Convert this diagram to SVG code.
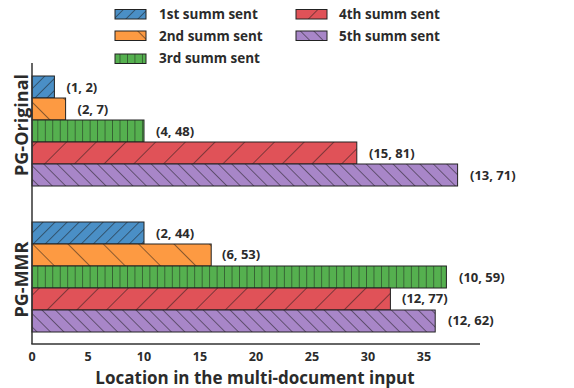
<svg xmlns="http://www.w3.org/2000/svg" width="574" height="388" viewBox="0 0 574 388">
<style>
text{font-family:"Open Sans","DejaVu Sans",sans-serif;font-weight:700;fill:#2b2b2b}
.lbl{font-size:13px}
.leg{font-size:13.5px}
.tick{font-size:12.5px;text-anchor:middle}
.bar{stroke:#222;stroke-width:1}
.h{stroke:#1a1a1a;stroke-width:1}
.c1{fill:#4a8fc6}.c2{fill:#fd9a42}.c3{fill:#55b04f}.c4{fill:#e05258}.c5{fill:#a886c8}
.p1{fill:url(#h1)}.p2{fill:url(#h2)}.p3{fill:url(#h3)}.p4{fill:url(#h4)}.p5{fill:url(#h5)}
</style>
<defs>
<pattern id="h1" patternUnits="userSpaceOnUse" width="8.5" height="8.5" patternTransform="rotate(45)"><line class="h" x1="0" y1="0" x2="0" y2="8.5"/></pattern>
<pattern id="h2" patternUnits="userSpaceOnUse" width="25" height="25" patternTransform="rotate(-45)"><line class="h" x1="0" y1="0" x2="0" y2="25"/></pattern>
<pattern id="h3" patternUnits="userSpaceOnUse" width="7.47" height="10"><line class="h" x1="0" y1="0" x2="0" y2="10"/></pattern>
<pattern id="h4" patternUnits="userSpaceOnUse" width="21" height="21" patternTransform="rotate(45)"><line class="h" x1="0" y1="0" x2="0" y2="21"/></pattern>
<pattern id="h5" patternUnits="userSpaceOnUse" width="9.5" height="9.5" patternTransform="rotate(-45)"><line class="h" x1="0" y1="0" x2="0" y2="9.5"/></pattern>
</defs>

<g id="legend">
<rect class="c1" x="115" y="9.5" width="31" height="9.5"/><rect class="p1 bar" x="115" y="9.5" width="31" height="9.5"/>
<text class="leg" x="159" y="19">1st summ sent</text>
<rect class="c2" x="115" y="31" width="31" height="9.5"/><rect class="p2 bar" x="115" y="31" width="31" height="9.5"/>
<text class="leg" x="159" y="40.5">2nd summ sent</text>
<rect class="c3" x="115" y="54" width="31" height="9.5"/><rect class="p3 bar" x="115" y="54" width="31" height="9.5"/>
<text class="leg" x="159" y="63">3rd summ sent</text>
<rect class="c4" x="296" y="9.5" width="31" height="9.5"/><rect class="p4 bar" x="296" y="9.5" width="31" height="9.5"/>
<text class="leg" x="339" y="19">4th summ sent</text>
<rect class="c5" x="296" y="31" width="31" height="9.5"/><rect class="p5 bar" x="296" y="31" width="31" height="9.5"/>
<text class="leg" x="339" y="40.5">5th summ sent</text>
</g>

<g id="pg-original">
<g id="orig-1"><rect class="c1" x="32" y="76" width="22.4" height="22"/><rect class="p1 bar" x="32" y="76" width="22.4" height="22"/><text class="lbl" x="66.5" y="92">(1, 2)</text></g>
<g id="orig-2"><rect class="c2" x="32" y="98" width="33.6" height="22"/><rect class="p2 bar" x="32" y="98" width="33.6" height="22"/><text class="lbl" x="77.5" y="114">(2, 7)</text></g>
<g id="orig-3"><rect class="c3" x="32" y="120" width="112" height="22"/><rect class="p3 bar" x="32" y="120" width="112" height="22"/><text class="lbl" x="156" y="136">(4, 48)</text></g>
<g id="orig-4"><rect class="c4" x="32" y="142" width="324.8" height="22"/><rect class="p4 bar" x="32" y="142" width="324.8" height="22"/><text class="lbl" x="369" y="158">(15, 81)</text></g>
<g id="orig-5"><rect class="c5" x="32" y="164" width="425.6" height="22"/><rect class="p5 bar" x="32" y="164" width="425.6" height="22"/><text class="lbl" x="470" y="180">(13, 71)</text></g>
</g>

<g id="pg-mmr">
<g id="mmr-1"><rect class="c1" x="32" y="222" width="112" height="22"/><rect class="p1 bar" x="32" y="222" width="112" height="22"/><text class="lbl" x="156" y="238">(2, 44)</text></g>
<g id="mmr-2"><rect class="c2" x="32" y="244" width="179.2" height="22"/><rect class="p2 bar" x="32" y="244" width="179.2" height="22"/><text class="lbl" x="222" y="259">(6, 53)</text></g>
<g id="mmr-3"><rect class="c3" x="32" y="266" width="414.4" height="22"/><rect class="p3 bar" x="32" y="266" width="414.4" height="22"/><text class="lbl" x="459" y="282">(10, 59)</text></g>
<g id="mmr-4"><rect class="c4" x="32" y="288" width="358.4" height="22"/><rect class="p4 bar" x="32" y="288" width="358.4" height="22"/><text class="lbl" x="402" y="303">(12, 77)</text></g>
<g id="mmr-5"><rect class="c5" x="32" y="310" width="403.2" height="22"/><rect class="p5 bar" x="32" y="310" width="403.2" height="22"/><text class="lbl" x="448" y="325">(12, 62)</text></g>
</g>

<g id="axes">
<line x1="32" y1="63" x2="32" y2="344" stroke="#333" stroke-width="1.5"/>
<line x1="31.3" y1="344" x2="480" y2="344" stroke="#333" stroke-width="1.5"/>
<text class="tick" x="32" y="361">0</text>
<text class="tick" x="88" y="361">5</text>
<text class="tick" x="144" y="361">10</text>
<text class="tick" x="200" y="361">15</text>
<text class="tick" x="256" y="361">20</text>
<text class="tick" x="312" y="361">25</text>
<text class="tick" x="368" y="361">30</text>
<text class="tick" x="424" y="361">35</text>
<text x="255" y="383.5" font-size="17" text-anchor="middle">Location in the multi-document input</text>
<text transform="translate(27.5,125) rotate(-90)" font-size="18" text-anchor="middle">PG-Original</text>
<text transform="translate(27.5,279.5) rotate(-90)" font-size="18" text-anchor="middle">PG-MMR</text>
</g>
</svg>
